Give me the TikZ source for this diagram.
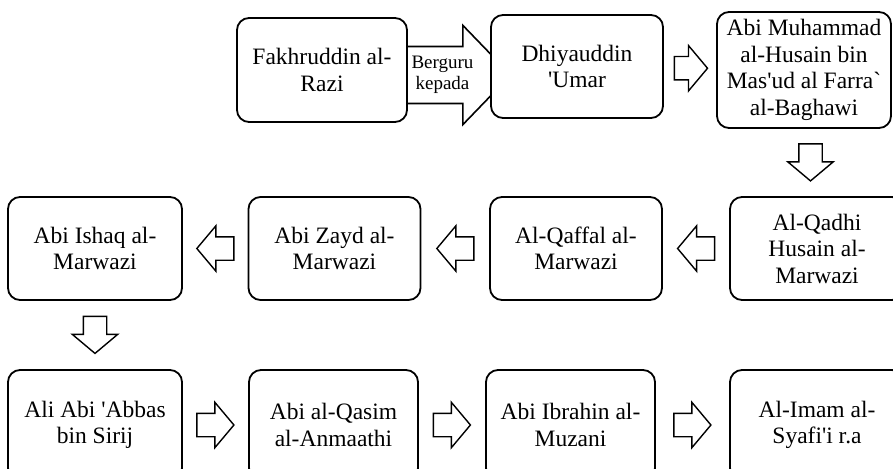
\documentclass[tikz,border=0pt]{standalone}
\usepackage{fontspec}
\setmainfont{Liberation Serif}[Ligatures=TeXOff]
\usetikzlibrary{positioning,shapes.arrows,calc,backgrounds}
\tikzset{
  teacher/.style={draw, line width=1.8pt, fill=white, rounded corners=12pt, minimum width=172pt, minimum height=103pt, align=center, inner sep=2pt, font=\fontsize{23.5}{26.5}\selectfont},
  flow/.style={draw, line width=1.4pt, fill=white, single arrow, single arrow head extend=11pt, single arrow tip angle=100, minimum height=37pt, minimum width=44pt, inner sep=11pt},
  flowright/.style={flow, xshift=-5pt},
  flowleft/.style={flow, shape border rotate=180, xshift=5pt},
  flowdown/.style={flow, shape border rotate=270, yshift=5pt},
  bigflow/.style={draw, line width=1.6pt, fill=white, single arrow, single arrow head extend=21pt, single arrow tip angle=92, minimum height=107pt, inner sep=9pt, align=center, font=\fontsize{19}{21}\selectfont},
}
\begin{document}
\begin{tikzpicture}[x=1pt,y=-1pt]
  \useasboundingbox (0,0) rectangle (893,468);
  % first row
  \node[teacher, minimum width=170pt, minimum height=104pt] (fakhruddin) at (322,70) {Fakhruddin al-\\Razi};
  \node[teacher] (dhiyauddin) at (577,66.5) {Dhiyauddin\\'Umar};
  \node[teacher, minimum width=174pt, minimum height=116pt] (muhammad) at (804,70) {Abi Muhammad\\al-Husain bin\\Mas'ud al Farra`\\al-Baghawi};
  % second row
  \node[teacher, minimum width=174pt] (qadhi) at (817,248.5) {Al-Qadhi\\Husain al-\\Marwazi};
  \node[teacher] (qaffal) at (576,248.5) {Al-Qaffal al-\\Marwazi};
  \node[teacher] (zayd) at (334.5,248.5) {Abi Zayd al-\\Marwazi};
  \node[teacher, minimum width=174pt] (ishaq) at (95,248.5) {Abi Ishaq al-\\Marwazi};
  % third row
  \node[teacher, minimum width=174pt, minimum height=110pt] (ali) at (95,425) {Ali Abi 'Abbas\\bin Sirij};
  \node[teacher, minimum width=169pt, minimum height=110pt] (qasim) at (333.5,425) {Abi al-Qasim\\al-Anmaathi};
  \node[teacher, minimum width=169pt, minimum height=110pt] (ibrahin) at (570.5,425) {Abi Ibrahin al-\\Muzani};
  \node[teacher, minimum width=174pt, minimum height=110pt] (imam) at (817,425) {Al-Imam al-\\Syafi'i r.a};
  % arrows
  \begin{scope}[on background layer]
    \node[bigflow, anchor=tail] (guru) at ($(fakhruddin.east)+(-7,5)$) {Berguru\\kepada};
  \end{scope}
  \node[flowright, minimum height=32pt, xshift=1pt] (f1) at ($(dhiyauddin.east)!0.5!(muhammad.west)$) {};
  \node[flowdown] (f2) at ($(muhammad.south)!0.5!(qadhi.north)$) {};
  \node[flowleft] (f3) at ($(qadhi.west)!0.5!(qaffal.east)$) {};
  \node[flowleft] (f4) at ($(qaffal.west)!0.5!(zayd.east)$) {};
  \node[flowleft] (f5) at ($(zayd.west)!0.5!(ishaq.east)$) {};
  \node[flowdown] (f6) at ($(ishaq.south)!0.5!(ali.north)$) {};
  \node[flowright] (f7) at ($(ali.east)!0.5!(qasim.west)$) {};
  \node[flowright] (f8) at ($(qasim.east)!0.5!(ibrahin.west)$) {};
  \node[flowright] (f9) at ($(ibrahin.east)!0.5!(imam.west)$) {};
\end{tikzpicture}
\end{document}
